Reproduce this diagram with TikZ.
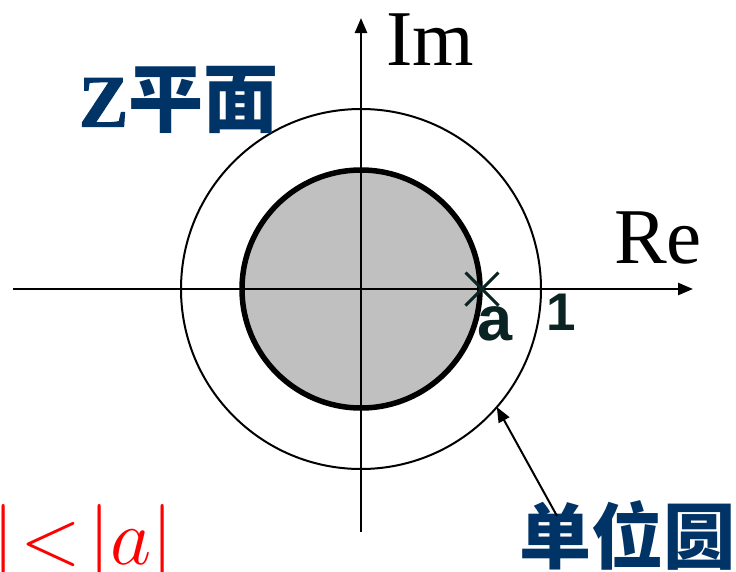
\RequirePackage{fix-cm}
\documentclass[tikz,border=0pt]{standalone}
\usepackage{fontspec}
\setmainfont{Liberation Serif}
\newfontfamily\cjk{Noto Sans CJK SC}
\newfontfamily\sans{Liberation Sans}
\newfontfamily\zfont{Liberation Serif}[BoldFeatures={FakeBold=1.5}]
\usetikzlibrary{arrows.meta,shapes.misc}
\definecolor{zblue}{RGB}{0,51,102}
\definecolor{inkc}{RGB}{10,35,35}
\definecolor{fillgray}{RGB}{192,192,192}
\begin{document}
\begin{tikzpicture}[x=1pt,y=-1pt,
  axisline/.style={line width=2.5pt,-{Triangle[length=15pt,width=12pt]}},
  pointer/.style={line width=2pt,-{Triangle[length=15pt,width=12pt]}},
  ring/.style={circle,draw,inner sep=0,outer sep=0},
  lbl/.style={inner sep=0,outer sep=0}]
\useasboundingbox (0,0) rectangle (736,571);
% circles
\node[ring,line width=2pt,minimum size=360pt] (outer) at (361,289) {};
\node[ring,line width=5.5pt,fill=fillgray,minimum size=238pt] (inner) at (361,289) {};
% axes
\coordinate (xl) at (13,289);
\coordinate (xr) at (693,289);
\coordinate (yb) at (361,532);
\coordinate (yt) at (361,18);
\draw[axisline] (xl) -- (xr);
\draw[axisline] (yb) -- (yt);
% axis labels
\node[lbl,anchor=base west,font=\fontsize{79}{79}\selectfont] (im) at (386,65) {Im};
\node[lbl,anchor=base west,font=\fontsize{79}{79}\selectfont] (re) at (614,263) {Re};
% pole mark
\node[cross out,draw=inkc,line width=3pt,minimum size=30pt,inner sep=0] (amark) at (482,289) {};
\node[lbl,anchor=base west,text=inkc,font=\sans\bfseries\fontsize{63}{63}\selectfont] (alab) at (477,340) {a};
\node[lbl,anchor=base west,text=inkc,font=\sans\bfseries\fontsize{53}{53}\selectfont] (one) at (546,330) {1};
% titles
\node[lbl,anchor=west,text=zblue] (zp) at (79,100) {\zfont\bfseries\fontsize{74}{74}\selectfont Z\fontsize{75}{75}\selectfont\cjk 平面};
\node[lbl,anchor=west,text=zblue] (unit) at (519,535) {\fontsize{72}{72}\selectfont\cjk\bfseries 单位圆};
% pointer
\coordinate (ptr) at (557,516);
\draw[pointer] (ptr) -- (outer.-41.7);
% inequality
\node[lbl,anchor=base west,text=red] (ineq) at (-8,564) {\fontsize{80}{80}\selectfont$|\mkern-3.5mu<\mkern-3.5mu|a|$};
\end{tikzpicture}
\end{document}
